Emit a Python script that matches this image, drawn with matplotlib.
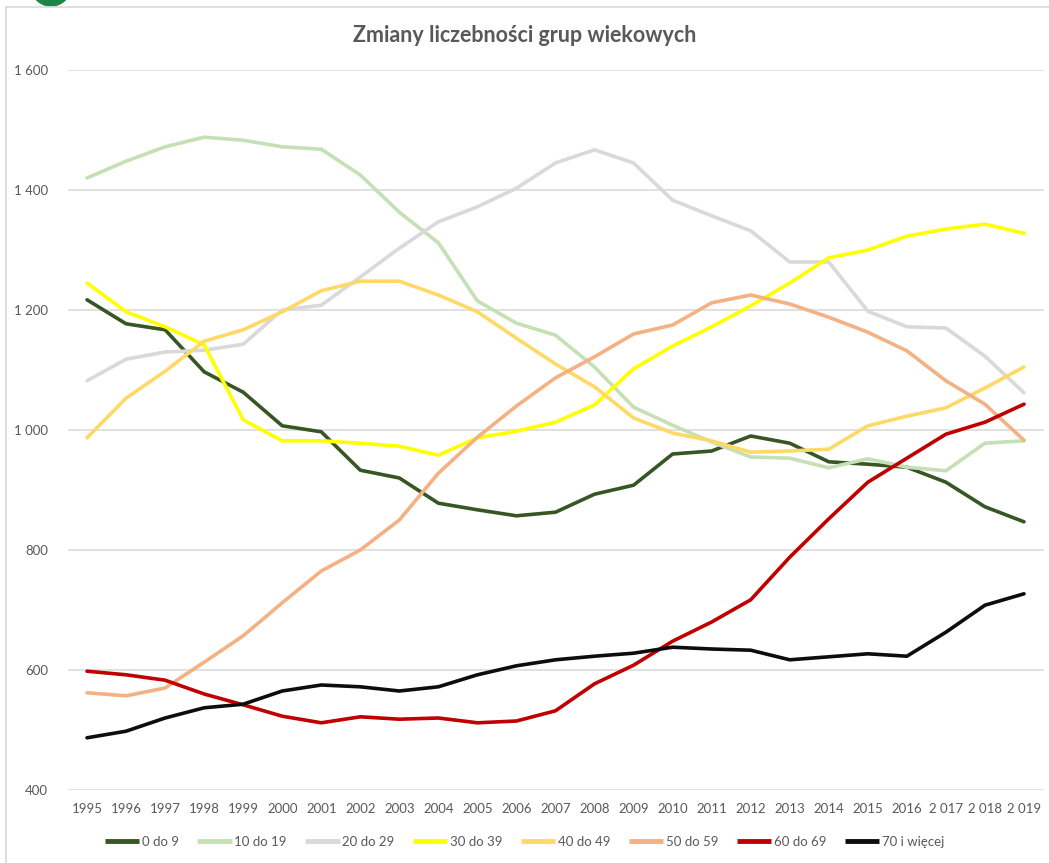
import matplotlib
matplotlib.use("Agg")
import matplotlib.pyplot as plt
from matplotlib.patches import Ellipse
from matplotlib.lines import Line2D

years = ["1995", "1996", "1997", "1998", "1999", "2000", "2001", "2002", "2003",
         "2004", "2005", "2006", "2007", "2008", "2009", "2010", "2011", "2012",
         "2013", "2014", "2015", "2016", "2 017", "2 018", "2 019"]

g0_9 = [1217, 1177, 1167, 1097, 1063, 1007, 997, 933, 920, 878, 867, 857, 863,
        893, 908, 960, 965, 990, 978, 947, 943, 938, 913, 872, 847]
g10_19 = [1420, 1448, 1472, 1488, 1483, 1472, 1468, 1425, 1363, 1312, 1215, 1178,
          1158, 1105, 1038, 1008, 980, 955, 953, 937, 952, 938, 932, 978, 982]
g20_29 = [1082, 1118, 1130, 1133, 1143, 1200, 1208, 1255, 1303, 1347, 1372, 1403,
          1445, 1467, 1445, 1383, 1357, 1332, 1280, 1280, 1198, 1172, 1170, 1123, 1062]
g30_39 = [1245, 1197, 1172, 1142, 1017, 982, 982, 978, 973, 958, 987, 998, 1013,
          1042, 1102, 1140, 1172, 1207, 1245, 1287, 1300, 1323, 1335, 1343, 1328]
g40_49 = [987, 1053, 1098, 1148, 1167, 1197, 1232, 1248, 1248, 1225, 1197, 1153,
          1110, 1072, 1020, 995, 982, 963, 965, 968, 1007, 1023, 1037, 1070, 1105]
g50_59 = [562, 557, 570, 613, 657, 712, 765, 800, 850, 928, 988, 1040, 1087, 1122,
          1160, 1175, 1212, 1225, 1210, 1188, 1163, 1132, 1082, 1043, 983]
g60_69 = [598, 592, 583, 560, 542, 523, 512, 522, 518, 520, 512, 515, 532, 577,
          608, 648, 680, 717, 788, 852, 913, 953, 993, 1013, 1043]
g70 = [487, 498, 520, 537, 543, 565, 575, 572, 565, 572, 592, 607, 617, 623, 628,
       638, 635, 633, 617, 622, 627, 623, 663, 708, 727]

series_names = ["0 do 9", "10 do 19", "20 do 29", "30 do 39", "40 do 49",
                "50 do 59", "60 do 69", "70 i więcej"]
series_values = [g0_9, g10_19, g20_29, g30_39, g40_49, g50_59, g60_69, g70]
colors = ["#375623", "#C5E0B4", "#D9D9D9", "#FFFF00", "#FFD966", "#F4B183",
          "#C00000", "#0D0D0D"]

yticks = [400, 600, 800, 1000, 1200, 1400, 1600]
ytick_labels = ["400", "600", "800", "1 000", "1 200", "1 400", "1 600"]

W, H = 1049, 863
fig = plt.figure(figsize=(W / 100, H / 100), dpi=100)
plt.rcParams['font.family'] = ['Lato', 'DejaVu Sans']

ax = fig.add_axes([67.5 / W, 1 - 790 / H, (1043.5 - 67.5) / W, (790 - 70) / H])
x = list(range(len(years)))
for name, vals, c in zip(series_names, series_values, colors):
    ax.plot(x, vals, color=c, linewidth=2.6, solid_capstyle='round',
            solid_joinstyle='round', label=name)

ax.set_xlim(-0.5, len(years) - 0.5)
ax.set_ylim(400, 1600)
ax.set_yticks(yticks)
ax.set_yticklabels(ytick_labels)
ax.set_xticks(x)
ax.set_xticklabels(years)
ax.tick_params(axis='both', length=0, colors="#595959", labelsize=9.5)
ax.tick_params(axis='x', pad=9)
ax.tick_params(axis='y', pad=14)
ax.grid(axis='y', color="#D9D9D9", linewidth=1.1)
ax.set_axisbelow(True)
for s in ax.spines.values():
    s.set_visible(False)

fig.text(0.5, 1 - 36 / H, "Zmiany liczebności grup wiekowych", ha='center',
         va='center', fontsize=15.5, fontweight='bold', color="#595959")

handles = [Line2D([0], [0], color=c, linewidth=3.5, solid_capstyle='butt')
           for c in colors]
fig.legend(handles, series_names, loc='center', bbox_to_anchor=(0.5, 1 - 842 / H),
           ncol=8, frameon=False, fontsize=9.5, labelcolor="#595959",
           handlelength=2.6, handletextpad=0.2, columnspacing=1.4)

# chart border (left and top) and partial logo
fig.add_artist(Line2D([6 / W, 6 / W], [0, 1 - 7 / H], color="#D9D9D9", linewidth=1.2))
fig.add_artist(Line2D([6 / W, 1], [1 - 7 / H, 1 - 7 / H], color="#D9D9D9", linewidth=1.2))
fig.add_artist(Ellipse((51 / W, 1 + 14 / H), 40 / W, 40 / H, color="#1E8449",
                       transform=fig.transFigure, clip_on=False))

fig.savefig("out.png", dpi=100)
